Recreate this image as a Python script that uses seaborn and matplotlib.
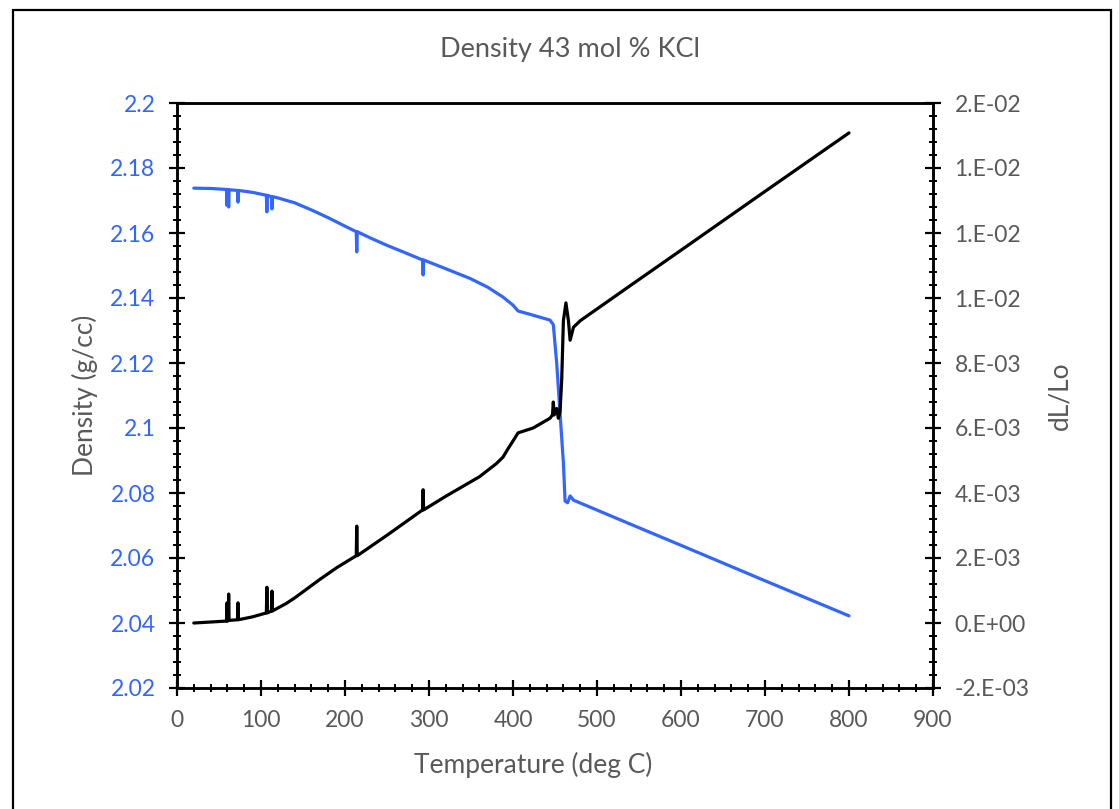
import pandas as pd
import seaborn as sns
import matplotlib.pyplot as plt
from matplotlib.patches import Rectangle
from matplotlib.ticker import MultipleLocator, FuncFormatter


# density curve (g/cc), spikes included
temp_density = [20, 40, 59, 59.5, 60, 61, 61.5, 62, 72, 72.6, 73.2, 90,
                106.4, 107, 107.6, 112.4, 113, 113.6, 120, 140, 160, 180,
                200, 213.4, 214, 214.6, 230, 250, 270, 292.4, 293, 293.6,
                320, 349, 370, 388, 400, 406, 420, 444, 448, 452, 456, 460,
                462, 465, 468, 472, 539, 600, 700, 800]
density = [2.1738, 2.1737, 2.1734, 2.1685, 2.1734, 2.1733, 2.1680, 2.1733,
           2.1731, 2.1695, 2.1731, 2.1725,
           2.1716, 2.1665, 2.1716, 2.1712, 2.1674, 2.1712, 2.1708, 2.1693,
           2.1671, 2.1647, 2.1621, 2.1604, 2.1542, 2.1604, 2.1585, 2.1562,
           2.1541, 2.1517, 2.1471, 2.1517, 2.1490, 2.1460, 2.1433, 2.1403,
           2.1378, 2.1360, 2.1350, 2.1332, 2.1318, 2.1200, 2.1046, 2.0892,
           2.0775, 2.0770, 2.0791, 2.0778, 2.0705, 2.0639, 2.0530, 2.0422]

# dL/Lo curve
temp_dl = [20, 40, 59, 59.5, 60, 61, 61.5, 62, 72, 72.6, 73.2, 90,
           106.4, 107, 107.6, 112.4, 113, 113.6, 120, 130, 140, 150, 170,
           190, 213.4, 214, 214.6, 250, 292.4, 293, 293.6, 320, 340, 350,
           360, 370, 380, 388, 395, 400, 406, 424, 444, 447, 448, 449, 452,
           454, 456, 458, 460, 463, 466, 468, 472, 480, 539, 600, 700, 800]
dl_lo = [0.0, 0.00003, 0.00006, 0.00062, 0.00006, 0.00007, 0.00089, 0.00008,
         0.0001, 0.00062, 0.0001, 0.00019,
         0.00031, 0.0011, 0.00031, 0.00037, 0.00098, 0.00037, 0.00046,
         0.0006, 0.00077, 0.00096, 0.00134, 0.0017, 0.00207, 0.00298,
         0.00207, 0.0027, 0.00348, 0.0041, 0.00348, 0.0039, 0.0042, 0.00435,
         0.0045, 0.0047, 0.0049, 0.0051, 0.0054, 0.0056, 0.00585, 0.006,
         0.0063, 0.0064, 0.0068, 0.0064, 0.0066,
         0.0063, 0.0065, 0.0075, 0.0093, 0.00985, 0.0093, 0.0087, 0.0091,
         0.0093, 0.01037, 0.01147, 0.01328, 0.01508]

df_density = pd.DataFrame({"temp": temp_density, "density": density})
df_dl = pd.DataFrame({"temp": temp_dl, "dl": dl_lo})

blue = "#3366ff"
grey = "#595959"

sns.set_theme(style="white")
plt.rcParams["font.family"] = ["Lato", "DejaVu Sans"]

fig = plt.figure(figsize=(11.19, 8.09), dpi=100)
ax = fig.add_axes([177 / 1119, 1 - 688 / 809, 756 / 1119, 585 / 809])

sns.lineplot(data=df_density, x="temp", y="density", ax=ax, color=blue,
             linewidth=2.3, estimator=None, sort=False)
ax2 = ax.twinx()
sns.lineplot(data=df_dl, x="temp", y="dl", ax=ax2, color="black",
             linewidth=2.3, estimator=None, sort=False)

ax.set_xlim(0, 900)
ax.set_ylim(2.02, 2.2)
ax2.set_ylim(-0.002, 0.016)

ax.xaxis.set_major_locator(MultipleLocator(100))
ax.xaxis.set_minor_locator(MultipleLocator(20))
ax.yaxis.set_major_locator(MultipleLocator(0.02))
ax.yaxis.set_minor_locator(MultipleLocator(0.004))
ax2.yaxis.set_major_locator(MultipleLocator(0.002))
ax2.yaxis.set_minor_locator(MultipleLocator(0.0004))

ax.yaxis.set_major_formatter(FuncFormatter(lambda v, p: f"{v:.2f}".rstrip("0")))
ax2.yaxis.set_major_formatter(FuncFormatter(lambda v, p: f"{v:#.0E}"))

for a in (ax, ax2):
    for s in a.spines.values():
        s.set_linewidth(1.8)
        s.set_color("black")
    a.tick_params(which="major", direction="inout", length=11, width=1.6,
                  color="black", pad=10, labelsize=16.5)
    a.tick_params(which="minor", direction="inout", length=6, width=1.4,
                  color="black")

ax.tick_params(axis="y", which="both", left=True, labelcolor=blue)
ax.tick_params(axis="x", which="both", bottom=True, labelcolor=grey)
ax2.tick_params(axis="y", which="both", right=True, labelcolor=grey)

ax.set_xlabel("Temperature (deg C)", fontsize=19, color=grey)
ax.set_ylabel("Density (g/cc)", fontsize=19, color=grey)
ax2.set_ylabel("dL/Lo", fontsize=19, color=grey)
ax.xaxis.set_label_coords(0.5 - 22 / 756, -0.11)
ax.yaxis.set_label_coords(-0.1045, 0.5)
ax2.yaxis.set_label_coords(1.151, 0.5)

fig.text(570 / 1119, 1 - 50 / 809, "Density 43 mol % KCl", fontsize=19.5,
         color=grey, ha="center", va="center")

# outer chart frame
fig.patches.append(Rectangle((13 / 1119, -0.05), 1098 / 1119, 1.05 - 10 / 809,
                             transform=fig.transFigure, fill=False,
                             edgecolor="black", linewidth=1.6, clip_on=False))

fig.savefig("out.png", dpi=100)
